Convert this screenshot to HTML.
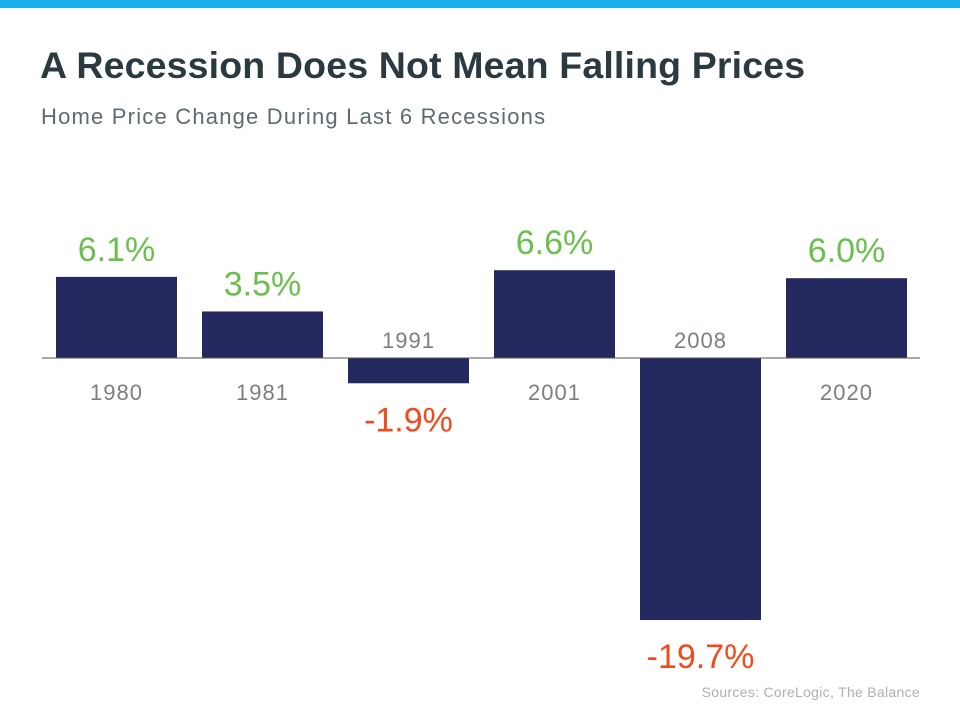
<!DOCTYPE html>
<html><head><meta charset="utf-8"><style>
body{margin:0;width:960px;height:720px;background:#fff;overflow:hidden;font-family:"Liberation Sans",sans-serif;position:relative}
#topbar{position:absolute;left:0;top:0;width:960px;height:8px;background:#1aaeea}
#title{position:absolute;left:40px;top:44px;font-size:37.5px;font-weight:bold;color:#2b3a40;letter-spacing:0.15px}
#subtitle{position:absolute;left:41px;top:104px;font-size:22px;color:#5c6b72;letter-spacing:1.2px}
#source{position:absolute;right:40px;top:684px;font-size:14px;color:#aab0b3;letter-spacing:0.3px}
svg{position:absolute;left:0;top:0}
</style></head><body>
<div id="topbar"></div>
<div id="title">A Recession Does Not Mean Falling Prices</div>
<div id="subtitle">Home Price Change During Last 6 Recessions</div>
<div id="source">Sources: CoreLogic, The Balance</div>
<svg id="chart" width="960" height="720"></svg>
<script>
const years = ["1980","1981","1991","2001","2008","2020"];
const values = [6.1, 3.5, -1.9, 6.6, -19.7, 6.0];
const labels = ["6.1%","3.5%","-1.9%","6.6%","-19.7%","6.0%"];

const NS = "http://www.w3.org/2000/svg";
const svg = document.getElementById("chart");
const baseY = 358, pxPer = 13.3, x0 = 56, step = 146, bw = 121;
function yScale(v){ return baseY - v * pxPer; }
function xScale(i){ return x0 + i * step; }
function mk(tag, attrs){ const e = document.createElementNS(NS, tag); for (const k in attrs) e.setAttribute(k, attrs[k]); svg.appendChild(e); return e; }

values.forEach((v, i) => {
  const x = xScale(i), y = yScale(v);
  const r = mk("rect", {x: x, y: Math.min(y, baseY), width: bw, height: Math.abs(baseY - y), fill: "#23295e"});
  
  
  const cx = x + bw / 2;
  const yr = mk("text", {x: cx, y: v >= 0 ? baseY + 42 : baseY - 10, "text-anchor": "middle", "font-size": "22", fill: "#7a7f82", "font-family": "Liberation Sans, sans-serif", "letter-spacing": "1"});
  yr.textContent = years[i];
  
  
  const vl = mk("text", {x: cx, y: v >= 0 ? y - 16 : y + 48, "text-anchor": "middle", "font-size": "34", fill: v >= 0 ? "#6cbf4f" : "#f24a1c", "font-family": "Liberation Sans, sans-serif"});
  vl.textContent = labels[i];
  
  
});
const ax = mk("line", {x1: 42, x2: 920, y1: baseY, y2: baseY, stroke: "#555", "stroke-width": 1});


</script>
</body></html>
